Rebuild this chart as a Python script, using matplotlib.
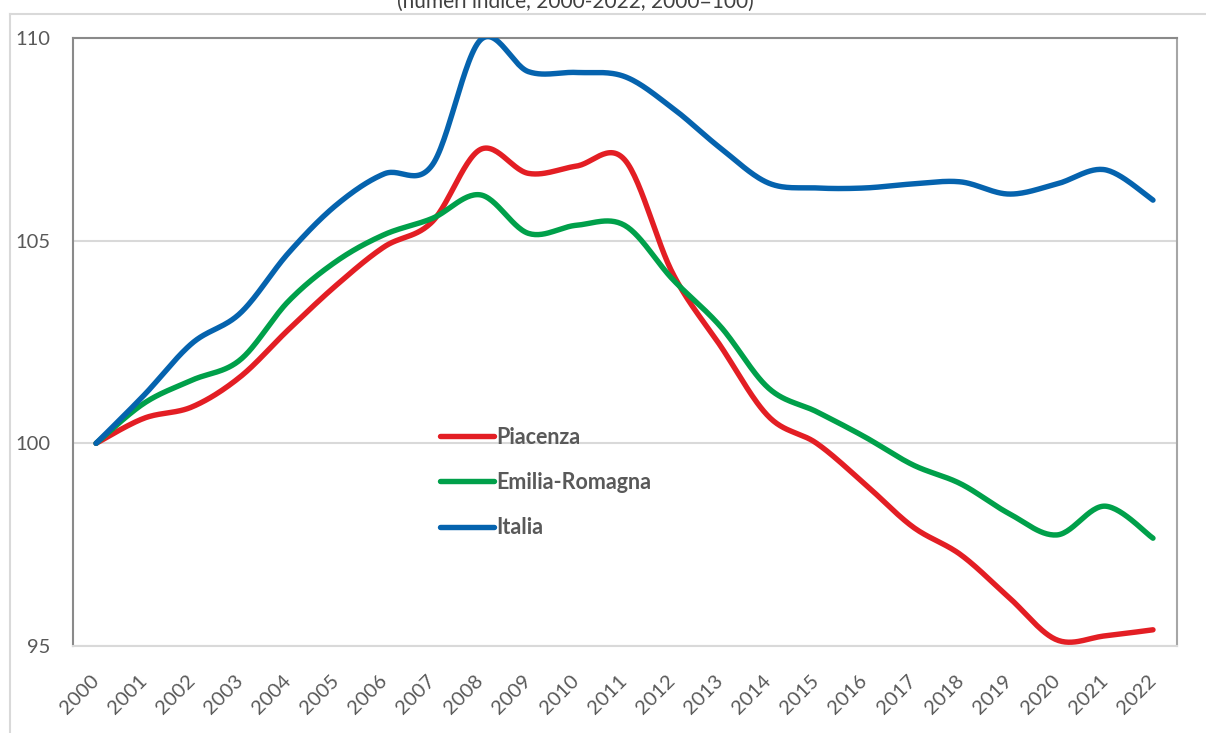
import numpy as np
import matplotlib
matplotlib.use("Agg")
import matplotlib.pyplot as plt
from matplotlib.lines import Line2D

plt.rcParams['font.family'] = ['Lato', 'DejaVu Sans']

years = list(range(2000, 2023))
piacenza = [100, 100.62, 100.9, 101.64, 102.8, 103.9, 104.85, 105.47, 107.25, 106.66,
            106.84, 107.0, 104.2, 102.4, 100.66, 100.0, 99.0, 97.94, 97.25, 96.2,
            95.15, 95.25, 95.4]
emilia = [100, 100.99, 101.56, 102.06, 103.5, 104.49, 105.15, 105.55, 106.13, 105.18,
          105.38, 105.38, 104.05, 102.88, 101.36, 100.78, 100.16, 99.47, 99.0, 98.27,
          97.74, 98.45, 97.66]
italia = [100, 101.19, 102.47, 103.21, 104.69, 105.88, 106.65, 106.87, 109.95, 109.17,
          109.15, 109.05, 108.27, 107.28, 106.42, 106.3, 106.3, 106.4, 106.45, 106.15,
          106.4, 106.75, 106.0]
series = [("Piacenza", piacenza, "#E31E24"),
          ("Emilia-Romagna", emilia, "#00A04A"),
          ("Italia", italia, "#0563AE")]


def smooth(x, y, n=30):
    # Excel-like smoothing: Catmull-Rom as cubic Bezier segments
    x = np.asarray(x, float)
    y = np.asarray(y, float)
    px = np.concatenate([[x[0]], x, [x[-1]]])
    py = np.concatenate([[y[0]], y, [y[-1]]])
    t = np.linspace(0, 1, n)[:, None]
    out_x, out_y = [], []
    for i in range(1, len(px) - 2):
        p0 = np.array([px[i], py[i]])
        p3 = np.array([px[i + 1], py[i + 1]])
        c1 = p0 + (np.array([px[i + 1], py[i + 1]]) - np.array([px[i - 1], py[i - 1]])) / 6
        c2 = p3 - (np.array([px[i + 2], py[i + 2]]) - np.array([px[i], py[i]])) / 6
        b = ((1 - t) ** 3) * p0 + 3 * ((1 - t) ** 2) * t * c1 + 3 * (1 - t) * t ** 2 * c2 + t ** 3 * p3
        out_x.extend(b[:, 0])
        out_y.extend(b[:, 1])
    return np.array(out_x), np.array(out_y)


fig = plt.figure(figsize=(12.06, 7.33), dpi=100)
ax = fig.add_axes([73 / 1206, 1 - 646 / 733, (1177 - 73) / 1206, (646 - 38) / 733])

xpos = np.arange(len(years))
for name, vals, col in series:
    sx, sy = smooth(xpos, vals)
    ax.plot(sx, sy, color=col, lw=3.9, solid_capstyle='round', label=name, zorder=3)

ax.set_xlim(-0.48, len(years) - 1 + 0.5)
ax.set_ylim(95, 110)
ax.set_yticks([95, 100, 105, 110])
ax.set_xticks(xpos)
ax.set_xticklabels([str(y) for y in years], rotation=45, ha='right', va='center',
                   rotation_mode='anchor')
ax.tick_params(axis='both', length=0, labelsize=14.5, labelcolor='#595959')
ax.tick_params(axis='y', pad=16)
ax.tick_params(axis='x', pad=23)
ax.grid(axis='y', color='#d9d9d9', lw=1.5)
ax.set_axisbelow(True)
for s in ['left', 'top']:
    ax.spines[s].set_color('#8a8a8a')
    ax.spines[s].set_linewidth(1.5)
ax.spines['right'].set_color('#a6a6a6')
ax.spines['right'].set_linewidth(1.5)
ax.spines['bottom'].set_color('#d9d9d9')
ax.spines['bottom'].set_linewidth(1.5)

leg = ax.legend(loc='upper left', bbox_to_anchor=(0.332, 0.361), frameon=False,
                borderpad=0, borderaxespad=0, handlelength=2.55, handletextpad=0.1,
                labelspacing=1.13, prop={'size': 15.5, 'weight': 'bold'})
for t in leg.get_texts():
    t.set_color('#595959')

# outer chart frame
fig.add_artist(Line2D([10 / 1206, 1], [1 - 14 / 733, 1 - 14 / 733], color='#d9d9d9', lw=1.5))
fig.add_artist(Line2D([10 / 1206, 10 / 1206], [0, 1 - 14 / 733], color='#d9d9d9', lw=1.5))

fig.text(575 / 1206, 1 - 8 / 733, "(numeri indice, 2000-2022, 2000=100)", ha='center',
         va='baseline', fontsize=15, color='#404040')

fig.savefig("out.png", dpi=100)
